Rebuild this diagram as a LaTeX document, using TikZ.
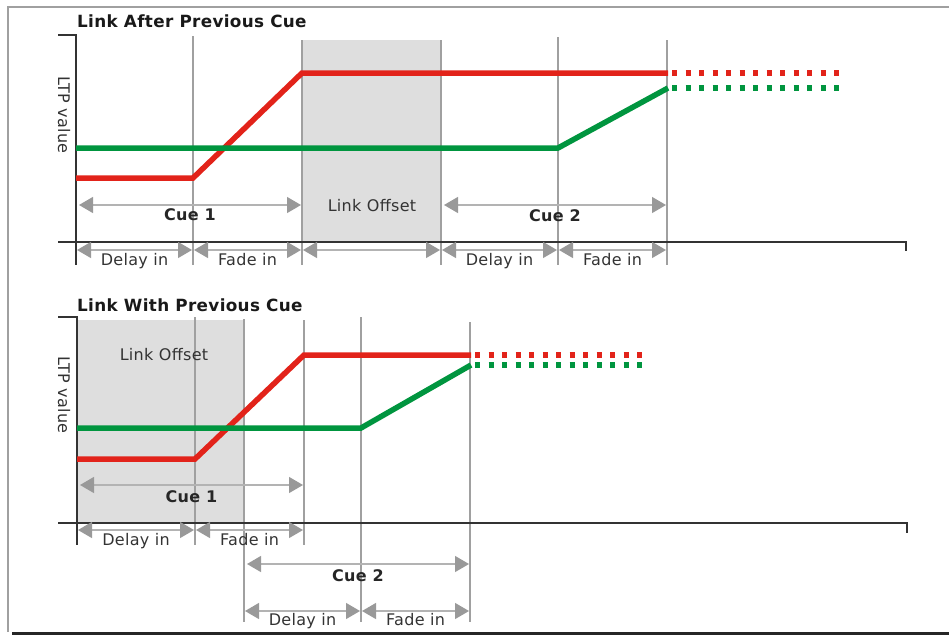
\documentclass[tikz,border=0pt]{standalone}
\usepackage{fontspec}
\setmainfont{DejaVu Sans}[LetterSpace=2]
\usepackage{tikz}
\usetikzlibrary{arrows.meta,positioning,calc}

\definecolor{ltpred}{HTML}{E2231A}
\definecolor{ltpgreen}{HTML}{00953F}
\definecolor{offsetgray}{HTML}{DEDEDE}
\definecolor{markgray}{HTML}{A0A0A0}
\definecolor{tipgray}{HTML}{999999}
\definecolor{txtgray}{HTML}{333333}

\begin{document}
\begin{tikzpicture}[x=1pt,y=-1pt,
  redln/.style={ltpred,line width=5.5pt,line join=miter},
  grnln/.style={ltpgreen,line width=5.5pt,line join=miter},
  reddots/.style={ltpred,line width=5.5pt,dash pattern=on 5pt off 8.5pt},
  grndots/.style={ltpgreen,line width=5.5pt,dash pattern=on 5pt off 8.5pt},
  marker/.style={markgray,line width=1.2pt},
  axisln/.style={black!80,line width=1.4pt},
  span/.style={markgray!80,line width=1.3pt,shorten <=1pt,shorten >=1pt,
    {Triangle[length=14pt,width=16pt,color=tipgray]}-{Triangle[length=14pt,width=16pt,color=tipgray]}},
  lbl/.style={font=\fontsize{16}{19}\selectfont,text=txtgray,anchor=base,inner sep=0pt},
  cuelbl/.style={lbl,font=\fontsize{16}{19}\selectfont\bfseries,text=black!85},
  title/.style={font=\fontsize{16.8}{20}\selectfont\bfseries,text=black!90,anchor=base west,inner sep=0pt},
  ylbl/.style={lbl,anchor=center,rotate=-90}]
\useasboundingbox (0,0) rectangle (949,635);
% frame
\draw[markgray,line width=1.5pt] (8,632) -- (8,7) -- (949,7);
\draw[black!85,line width=3pt] (12,633.5) -- (949,633.5);

%%% Link After Previous Cue
\node[title] (t1) at (77,27) {Link After Previous Cue};
\fill[offsetgray] (302,40) rectangle (441,242);
\foreach \x/\a in {193/36,302/40,441/40,558/37,667/40} {
  \draw[marker] (\x,\a) -- (\x,265);
}
\draw[axisln] (58,35) -- (76,35) -- (76,265);
\draw[axisln] (58,242) -- (906,242) -- (906,251);
\node[ylbl] (y1) at (64,115) {LTP value};
% channel levels
\draw[redln] (76,178) -- (193,178) -- (302,73) -- (668,73);
\draw[reddots] (672,73) -- (843,73);
\draw[grnln] (76,148) -- (558,148) -- (668,88);
\draw[grndots] (672,88) -- (843,88);
% timing
\foreach \x/\n in {76/a0,193/a1,302/a2,441/a3,558/a4,667/a5} {
  \coordinate (\n) at (\x,250);
  \coordinate (\n c) at (\x,205);
}
\draw[span] ($(a0c)+(2,0)$) -- node[cuelbl,yshift=-15pt] {Cue 1} (a2c);
\draw[span] ($(a3c)+(2,0)$) -- node[cuelbl,yshift=-16pt] {Cue 2} (a5c);
\node[lbl] (lo1) at (372,211) {Link Offset};
\foreach \p/\q/\t in {a0/a1/Delay in,a1/a2/Fade in,a2/a3/,a3/a4/Delay in,a4/a5/Fade in} {
  \draw[span] (\p) -- node[lbl,yshift=-15pt] {\t} (\q);
}

%%% Link With Previous Cue
\node[title] (t2) at (77,311) {Link With Previous Cue};
\fill[offsetgray] (77,320) rectangle (244,523);
\foreach \x/\a/\b in {195/317/545,244/319/622,304/320/545,361/317/622,470/322/622} {
  \draw[marker] (\x,\a) -- (\x,\b);
}
\draw[axisln] (58,317) -- (77,317) -- (77,545);
\draw[axisln] (58,523) -- (907,523) -- (907,533);
\node[ylbl] (y2) at (64,395) {LTP value};
% channel levels
\draw[redln] (77,459) -- (195,459) -- (304,355) -- (471,355);
\draw[reddots] (475,355) -- (643,355);
\draw[grnln] (77,428) -- (361,428) -- (471,365);
\draw[grndots] (475,365) -- (643,365);
% timing
\foreach \x/\n in {77/b0,195/b1,244/b2,304/b3,361/b4,470/b5} {
  \coordinate (\n) at (\x,530);
  \coordinate (\n d) at (\x,611);
}
\coordinate (b0c) at (79,485);
\coordinate (b3c) at (304,485);
\coordinate (b2c) at (246,564);
\coordinate (b5c) at (470,564);
\draw[span] (b0c) -- node[cuelbl,yshift=-17pt] {Cue 1} (b3c);
\draw[span] (b2c) -- node[cuelbl,yshift=-17pt] {Cue 2} (b5c);
\node[lbl] (lo2) at (164,360) {Link Offset};
\draw[span] (b0) -- node[lbl,yshift=-15pt] {Delay in} (b1);
\draw[span] (b1) -- node[lbl,yshift=-15pt] {Fade in} (b3);
\draw[span] (b2d) -- node[lbl,yshift=-14pt] {Delay in} (b4d);
\draw[span] (b4d) -- node[lbl,yshift=-14pt] {Fade in} (b5d);
\end{tikzpicture}
\end{document}
